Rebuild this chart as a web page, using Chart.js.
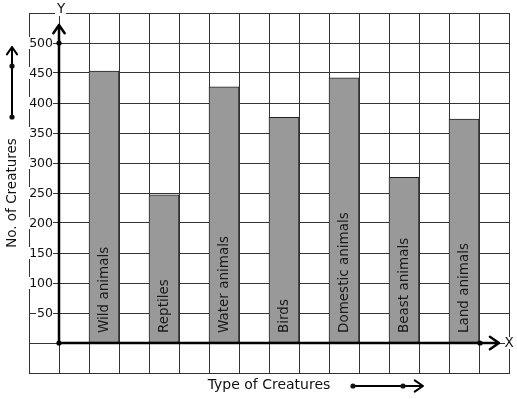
<!DOCTYPE html>
<html>
<head>
<meta charset="utf-8">
<script src="https://cdn.jsdelivr.net/npm/chart.js@4.4.1/dist/chart.umd.min.js"></script>
<style>
  html, body { margin: 0; padding: 0; background: #fff; }
  #wrap { width: 517px; height: 399px; }
</style>
</head>
<body>
<div id="wrap"><canvas id="grafico" width="517" height="399"></canvas></div>
<script>
// dados
const categorias = ['Wild animals', 'Reptiles', 'Water animals', 'Birds', 'Domestic animals', 'Beast animals', 'Land animals'];
const valores = [453, 247, 427, 376, 442, 276, 373];
const rotulosY = [50, 100, 150, 200, 250, 300, 350, 400, 450, 500];

const FONTE = '"DejaVu Sans", sans-serif';

// cada barra ocupa uma coluna da grade, com uma coluna livre entre elas
const pontos = valores.map((v, i) => ({ x: 2.5 + 2 * i, y: v }));

function seta(ctx, x1, y1, x2, y2, tam) {
    const ang = Math.atan2(y2 - y1, x2 - x1);
    ctx.beginPath();
    ctx.moveTo(x1, y1);
    ctx.lineTo(x2, y2);
    ctx.moveTo(x2 - tam * Math.cos(ang - 0.6), y2 - tam * Math.sin(ang - 0.6));
    ctx.lineTo(x2, y2);
    ctx.lineTo(x2 - tam * Math.cos(ang + 0.6), y2 - tam * Math.sin(ang + 0.6));
    ctx.stroke();
}

function ponto(ctx, x, y) {
    ctx.beginPath();
    ctx.arc(x, y, 2.6, 0, Math.PI * 2);
    ctx.fill();
}

const decoracao = {
    id: 'decoracao',
    afterDatasetsDraw(chart) {
        const ctx = chart.ctx;
        const meta = chart.getDatasetMeta(0);
        const base = chart.scales.y.getPixelForValue(0);
        ctx.save();
        ctx.fillStyle = '#1a1a1a';
        ctx.font = '13.5px ' + FONTE;
        ctx.textAlign = 'left';
        ctx.textBaseline = 'middle';
        meta.data.forEach((bar, i) => {
            ctx.save();
            ctx.translate(bar.x, base - 10);
            ctx.rotate(-Math.PI / 2);
            ctx.fillText(categorias[i], 0, 0);
            ctx.restore();
        });
        ctx.restore();
    },
    afterDraw(chart) {
        const ctx = chart.ctx;
        const x = chart.scales.x, y = chart.scales.y;
        const area = chart.chartArea;
        const ox = x.getPixelForValue(1);
        const oy = y.getPixelForValue(0);
        ctx.save();

        // rótulos do eixo Y com fundo branco
        ctx.font = '12.5px ' + FONTE;
        ctx.textAlign = 'right';
        ctx.textBaseline = 'middle';
        rotulosY.forEach(v => {
            const py = y.getPixelForValue(v);
            const w = ctx.measureText(String(v)).width;
            ctx.fillStyle = '#fff';
            ctx.fillRect(52 - w, py - 6, w + 1, 12);
            ctx.fillStyle = '#111';
            ctx.fillText(String(v), 53, py + 0.5);
        });

        // eixos
        ctx.strokeStyle = '#000';
        ctx.fillStyle = '#000';
        ctx.lineWidth = 2.5;
        ctx.lineCap = 'round';
        ctx.lineJoin = 'round';
        seta(ctx, ox, oy, ox, 25, 10);
        seta(ctx, ox, oy, 499, oy, 11);
        ponto(ctx, ox, oy);
        ponto(ctx, ox, y.getPixelForValue(500));
        ponto(ctx, 480, oy);

        // letras dos eixos
        ctx.font = '13.5px ' + FONTE;
        ctx.textAlign = 'center';
        ctx.textBaseline = 'middle';
        ctx.fillStyle = '#fff';
        ctx.fillRect(ox - 4, area.top - 3, 11, 6);
        ctx.fillRect(area.right - 4, oy - 6, 9, 12);
        ctx.fillStyle = '#111';
        ctx.fillText('Y', ox + 2, 9);
        ctx.fillText('X', area.right, oy);

        // títulos
        ctx.font = '14px ' + FONTE;
        ctx.fillText('Type of Creatures', 269, 385);
        ctx.font = '13.5px ' + FONTE;
        ctx.save();
        ctx.translate(12, 193);
        ctx.rotate(-Math.PI / 2);
        ctx.fillText('No. of Creatures', 0, 0);
        ctx.restore();

        // setas dos títulos
        ctx.lineWidth = 2;
        seta(ctx, 12, 117, 12, 47, 9);
        ponto(ctx, 12, 117);
        ponto(ctx, 12, 66);
        seta(ctx, 353, 386, 423, 386, 10);
        ponto(ctx, 353, 386);
        ponto(ctx, 403, 386);
        ctx.restore();
    }
};

new Chart(document.getElementById('grafico'), {
    type: 'bar',
    data: {
        datasets: [{
            data: pontos,
            backgroundColor: '#999999',
            borderColor: '#222',
            borderWidth: 1,
            borderSkipped: false,
            barThickness: 30
        }]
    },
    options: {
        responsive: false,
        animation: false,
        events: [],
        layout: { padding: { left: 29, top: 13, right: 8, bottom: 26 } },
        plugins: { legend: { display: false }, tooltip: { enabled: false } },
        scales: {
            x: {
                type: 'linear',
                min: 0,
                max: 16,
                offset: false,
                ticks: { display: false, stepSize: 1 },
                grid: { color: '#333', lineWidth: 1, drawTicks: false, offset: false },
                border: { display: true, color: '#333' },
                afterFit: s => { s.height = 0; }
            },
            y: {
                min: -50,
                max: 550,
                ticks: { display: false, stepSize: 50 },
                grid: { color: '#333', lineWidth: 1, drawTicks: false },
                border: { display: true, color: '#333' },
                afterFit: s => { s.width = 0; }
            }
        }
    },
    plugins: [decoracao]
});
</script>
</body>
</html>
